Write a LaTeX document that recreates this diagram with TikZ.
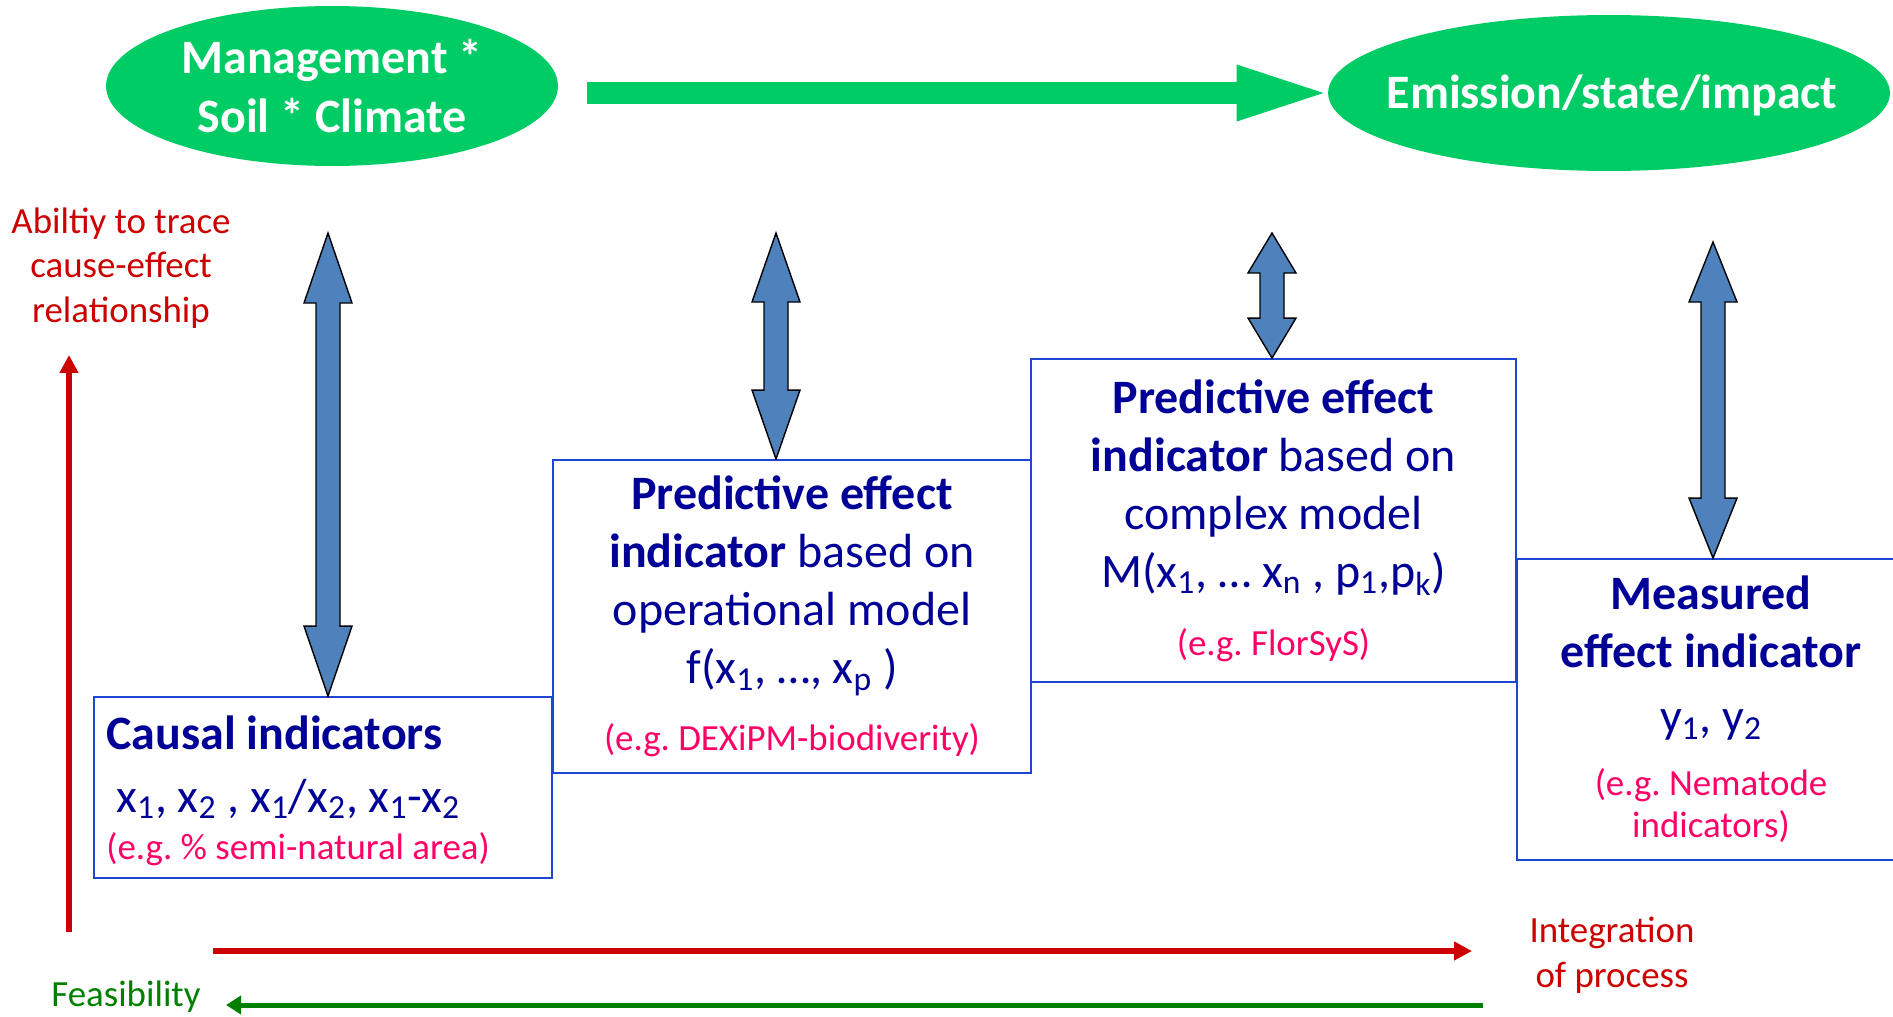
\documentclass[tikz,border=0pt]{standalone}
\usepackage{fontspec}
\setmainfont{Carlito}
\usetikzlibrary{shapes.geometric,arrows.meta,calc}

\definecolor{leafgreen}{RGB}{0,204,102}
\definecolor{darkred}{RGB}{204,0,0}
\definecolor{pinkred}{RGB}{255,0,102}
\definecolor{navyblue}{RGB}{0,0,150}
\definecolor{boxblue}{RGB}{30,70,210}
\definecolor{steelblue}{RGB}{79,129,189}
\definecolor{feasgreen}{RGB}{0,128,0}

\newcommand{\bigtext}{\fontsize{27.3}{33}\selectfont}
\newcommand{\smalltext}{\fontsize{21}{25.5}\selectfont}
\newcommand{\eg}[1]{{\color{pinkred}\smalltext #1}}

% up-down block arrow: top tip, bottom tip, head length
\newcommand{\updown}[3]{%
  \draw[blockarrow] (#1) -- ($(#1)+(24,#3)$) -- ($(#1)+(12,#3)$) -- ($(#2)+(12,-#3)$)
    -- ($(#2)+(24,-#3)$) -- (#2) -- ($(#2)+(-24,-#3)$) -- ($(#2)+(-12,-#3)$)
    -- ($(#1)+(-12,#3)$) -- ($(#1)+(-24,#3)$) -- cycle;}

\tikzset{
  blob/.style={ellipse,fill=leafgreen,inner sep=0pt},
  blobtext/.style={text=white,font=\bigtext\bfseries,align=center,inner sep=0pt},
  indbox/.style={draw=boxblue,line width=1.1pt,text=navyblue,font=\bigtext,inner sep=0pt},
  blockarrow/.style={fill=steelblue,draw=black,line width=.8pt,line join=miter},
  redarrow/.style={darkred,line width=.12cm,-{Triangle[length=.36cm,width=.36cm]}},
  backarrow/.style={feasgreen,line width=.1cm,-{Triangle[length=.3cm,width=.36cm]}},
  flowarrow/.style={leafgreen,line width=.44cm,-{Triangle[length=1.92cm,width=.98cm]}},
  axislabel/.style={font=\smalltext,align=center,inner sep=0pt}
}

\begin{document}
\begin{tikzpicture}[x=.02cm,y=-.02cm]
\useasboundingbox (0,0) rectangle (1893,1017);

% top row
\node[blob,minimum width=9.04cm,minimum height=3.2cm] (mgmt) at (332,86) {};
\node[blobtext] (mgmttext) at (mgmt) {Management *\\[1pt]Soil * Climate};
\node[blob,minimum width=11.24cm,minimum height=3.12cm] (emis) at (1609,93) {};
\node[blobtext] (emistext) at (1612,95) {Emission/state/impact};
\coordinate (fstart) at ([xshift=.58cm]mgmt.east);
\coordinate (fend) at ([xshift=.1cm]emis.west);
\draw[flowarrow] (fstart |- fend) -- (fend);

% indicator boxes
\node[indbox,minimum width=9.16cm,minimum height=3.62cm] (causal) at (323,787.5) {};
\node[anchor=west,align=left,text=navyblue,font=\bigtext,inner sep=0pt] (causaltext) at ([xshift=.26cm,yshift=-.06cm]causal.west)
  {{\bfseries Causal indicators}\\[2.8pt]
   \hspace{.2cm}x\textsubscript{1}, x\textsubscript{2} , x\textsubscript{1}/x\textsubscript{2}, x\textsubscript{1}-x\textsubscript{2}\\[-6.3pt]
   \eg{(e.g.\ \% semi-natural area)}};
\node[indbox,align=center,minimum width=9.56cm,minimum height=6.26cm] (opmodel) at (792,616.5)
  {{\bfseries Predictive effect}\\
   {\bfseries indicator} based on\\
   operational model\\
   f(x\textsubscript{1}, …, x\textsubscript{p} )\\[5pt]
   \eg{(e.g.\ DEXiPM-biodiverity)}};
\node[indbox,align=center,minimum width=9.7cm,minimum height=6.46cm] (cxmodel) at (1273.5,520.5)
  {{\bfseries Predictive effect}\\
   {\bfseries indicator} based on\\
   complex model\\
   M(x\textsubscript{1}, … x\textsubscript{n} , p\textsubscript{1},p\textsubscript{k})\\[5.7pt]
   \eg{(e.g.\ FlorSyS)}};
\node[indbox,align=center,minimum width=7.76cm,minimum height=6.02cm] (measured) at (1711,709.5)
  {{\bfseries Measured}\\
   {\bfseries effect indicator}\\[4pt]
   y\textsubscript{1}, y\textsubscript{2}\\[2.8pt]
   \eg{(e.g.\ Nematode}\\[-9.1pt]
   \eg{indicators)}};

% links between boxes and top row
\coordinate (a1t) at (328,233);
\coordinate (a2t) at (776,233);
\coordinate (a3t) at (1272,233);
\coordinate (a4t) at (1713,242);
\coordinate (a1b) at (a1t |- causal.north);
\coordinate (a2b) at (a2t |- opmodel.north);
\coordinate (a3b) at (a3t |- cxmodel.north);
\coordinate (a4b) at (a4t |- measured.north);
\updown{a1t}{a1b}{70}
\updown{a2t}{a2b}{69}
\updown{a3t}{a3b}{40}
\updown{a4t}{a4b}{60}

% axes
\node[axislabel,darkred] (trace) at (121,268) {Abiltiy to trace\\cause-effect\\relationship};
\node[axislabel,darkred] (integ) at (1612,955) {Integration\\of process};
\node[axislabel,feasgreen] (feas) at (126,997) {Feasibility};
\coordinate (vbot) at (69,932);
\coordinate (vtop) at (69,355);
\coordinate (hleft) at (213,951);
\coordinate (hright) at (1472,951);
\coordinate (gright) at (1483,1005);
\coordinate (gleft) at (226,1005);
\draw[redarrow] (vbot) -- (vtop);
\draw[redarrow] (hleft) -- (hright);
\draw[backarrow] (gright) -- (gleft);
\end{tikzpicture}
\end{document}
